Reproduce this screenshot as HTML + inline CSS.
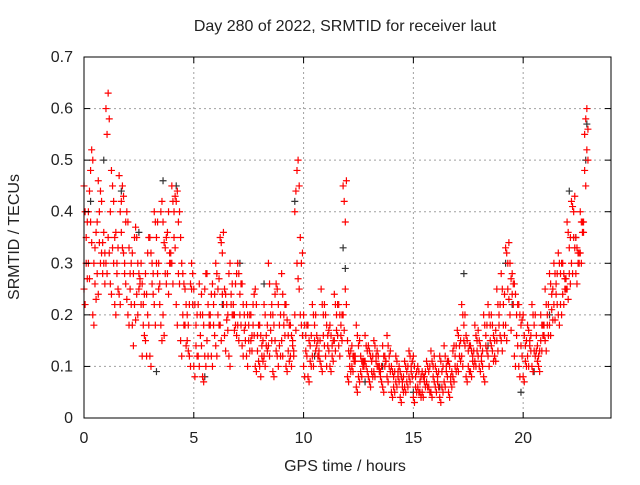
<!DOCTYPE html>
<html><head><meta charset="utf-8"><style>
html,body{margin:0;padding:0;background:#fff}
svg text{font-family:"Liberation Sans",sans-serif;font-size:16px;fill:#222}
</style></head><body>
<svg id="chart" width="640" height="480" xmlns="http://www.w3.org/2000/svg">
<rect width="640" height="480" fill="#fff"/>
<g id="grid"></g>
<g id="marks"></g>
<g id="axes"></g>
<text x="345" y="31" text-anchor="middle">Day 280 of 2022, SRMTID for receiver laut</text>
<text x="345" y="471" text-anchor="middle">GPS time / hours</text>
<text transform="translate(19,237) rotate(-90)" text-anchor="middle">SRMTID / TECUs</text>
</svg>
<script>
const xTicks=[0,5,10,15,20];
const yTicks=[0,0.1,0.2,0.3,0.4,0.5,0.6,0.7];
const yTickLabels=["0","0.1","0.2","0.3","0.4","0.5","0.6","0.7"];
const hoursA=[0.0,0.2,0.4,0.6,0.8,1.0,1.2,1.4,1.6,1.8,2.0,2.2,2.4,2.6,2.8,3.0,3.2,3.4,3.6,3.8,4.0,4.2,4.4,4.6,4.8,5.0,5.2,5.4,5.6,5.8,6.0,6.2,6.4,6.6,6.8,7.0,7.2,7.4,7.6,7.8,8.0,8.2,8.4,8.6,8.8,9.0,9.2,9.4,9.6,9.8,10.0,10.2,10.4,10.6,10.8,11.0,11.2,11.4,11.6,11.8,12.0,12.2,12.4,12.6,12.8,13.0,13.2,13.4,13.6,13.8,14.0,14.2,14.4,14.6,14.8,15.0,15.2,15.4,15.6,15.8,16.0,16.2,16.4,16.6,16.8,17.0,17.2,17.4,17.6,17.8,18.0,18.2,18.4,18.6,18.8,19.0,19.2,19.4,19.6,19.8,20.0,20.2,20.4,20.6,20.8,21.0,21.2,21.4,21.6,21.8,22.0,22.2,22.4,22.6,22.8];
const hoursB=[0.1,0.3,0.5,0.7,0.9,1.1,1.3,1.5,1.7,1.9,2.1,2.3,2.5,2.7,2.9,3.1,3.3,3.5,3.7,3.9,4.1,4.3,4.5,4.7,4.9,5.1,5.3,5.5,5.7,5.9,6.1,6.3,6.5,6.7,6.9,7.1,7.3,7.5,7.7,7.9,8.1,8.3,8.5,8.7,8.9,9.1,9.3,9.5,9.7,9.9,10.1,10.3,10.5,10.7,10.9,11.1,11.3,11.5,11.7,11.9,12.1,12.3,12.5,12.7,12.9,13.1,13.3,13.5,13.7,13.9,14.1,14.3,14.5,14.7,14.9,15.1,15.3,15.5,15.7,15.9,16.1,16.3,16.5,16.7,16.9,17.1,17.3,17.5,17.7,17.9,18.1,18.3,18.5,18.7,18.9,19.1,19.3,19.5,19.7,19.9,20.1,20.3,20.5,20.7,20.9,21.1,21.3,21.5,21.7,21.9,22.1,22.3,22.5,22.7,22.9];
const hoursC=[0.05,0.25,0.45,0.65,0.85,1.05,1.25,1.45,1.65,1.85,2.05,2.25,2.45,2.65,2.85,3.05,3.25,3.45,3.65,3.85,4.05,4.25,4.45,4.65,4.85,5.05,5.25,5.45,5.65,5.85,6.05,6.25,6.45,6.65,6.85,7.05,7.25,7.45,7.65,7.85,8.05,8.25,8.45,8.65,8.85,9.05,9.25,9.45,9.65,9.85,10.05,10.25,10.45,10.65,10.85,11.05,11.25,11.45,11.65,11.85,12.05,12.25,12.45,12.65,12.85,13.05,13.25,13.45,13.65,13.85,14.05,14.25,14.45,14.65,14.85,15.05,15.25,15.45,15.65,15.85,16.05,16.25,16.45,16.65,16.85,17.05,17.25,17.45,17.65,17.85,18.05,18.25,18.45,18.65,18.85,19.05,19.25,19.45,19.65,19.85,20.05,20.25,20.45,20.65,20.85,21.05,21.25,21.45,21.65,21.85,22.05,22.25,22.45,22.65,22.85];
const hoursD=[0.15,0.35,0.55,0.75,0.95,1.15,1.35,1.55,1.75,1.95,2.15,2.35,2.55,2.75,2.95,3.15,3.35,3.55,3.75,3.95,4.15,4.35,4.55,4.75,4.95,5.15,5.35,5.55,5.75,5.95,6.15,6.35,6.55,6.75,6.95,7.15,7.35,7.55,7.75,7.95,8.15,8.35,8.55,8.75,8.95,9.15,9.35,9.55,9.75,9.95,10.15,10.35,10.55,10.75,10.95,11.15,11.35,11.55,11.75,11.95,12.15,12.35,12.55,12.75,12.95,13.15,13.35,13.55,13.75,13.95,14.15,14.35,14.55,14.75,14.95,15.15,15.35,15.55,15.75,15.95,16.15,16.35,16.55,16.75,16.95,17.15,17.35,17.55,17.75,17.95,18.15,18.35,18.55,18.75,18.95,19.15,19.35,19.55,19.75,19.95,20.15,20.35,20.55,20.75,20.95,21.15,21.35,21.55,21.75,21.95,22.15,22.35,22.55,22.75,22.95];
const tecA1=[.45,.40,.50,.38,.42,.60,.40,.35,.47,.43,.38,.32,.35,.30,.28,.35,.40,.30,.38,.36,.45,.42,.35,.25,.22,.25,.22,.20,.28,.24,.30,.35,.25,.28,.22,.30,.26,.22,.20,.25,.18,.22,.30,.20,.25,.28,.22,.18,.40,.45,.20,.18,.22,.16,.25,.20,.18,.24,.22,.45,.15,.14,.18,.12,.16,.13,.15,.12,.14,.16,.10,.12,.09,.11,.13,.12,.10,.09,.11,.13,.10,.12,.14,.11,.13,.17,.22,.16,.14,.18,.15,.20,.22,.18,.25,.28,.33,.30,.26,.22,.20,.18,.22,.16,.20,.25,.28,.30,.32,.30,.38,.42,.35,.40,.55];
const tecA2=[.25,.30,.20,.28,.32,.30,.26,.22,.24,.32,.20,.18,.24,.22,.15,.12,.22,.25,.20,.28,.30,.22,.15,.18,.12,.10,.12,.08,.15,.12,.14,.18,.16,.12,.20,.18,.14,.12,.15,.10,.10,.12,.14,.09,.12,.15,.10,.12,.20,.25,.10,.08,.12,.14,.10,.12,.10,.15,.14,.20,.08,.10,.06,.09,.11,.07,.09,.10,.06,.08,.05,.07,.04,.06,.08,.04,.06,.05,.07,.05,.06,.04,.07,.05,.08,.10,.12,.08,.09,.11,.10,.08,.12,.13,.15,.15,.18,.20,.12,.10,.08,.12,.10,.13,.15,.15,.18,.22,.20,.24,.25,.30,.28,.32,.48];
const tecB1=[.35,.48,.33,.40,.36,.63,.45,.30,.42,.38,.28,.35,.25,.22,.32,.30,.35,.40,.33,.30,.40,.38,.28,.20,.30,.18,.20,.25,.18,.22,.25,.32,.22,.24,.26,.24,.20,.18,.22,.16,.14,.16,.20,.24,.18,.20,.16,.15,.48,.30,.16,.14,.18,.13,.20,.16,.14,.20,.18,.38,.12,.11,.14,.10,.13,.11,.12,.09,.10,.12,.08,.09,.07,.09,.10,.08,.07,.08,.09,.10,.08,.09,.10,.08,.12,.14,.18,.13,.12,.15,.12,.16,.18,.15,.20,.22,.30,.28,.20,.18,.14,.15,.18,.12,.16,.20,.24,.26,.28,.25,.33,.40,.30,.36,.60];
const tecB2=[.30,.38,.26,.34,.30,.35,.33,.28,.36,.26,.25,.22,.28,.18,.20,.26,.30,.18,.28,.32,.35,.28,.20,.15,.25,.14,.16,.12,.20,.18,.20,.24,.19,.22,.18,.20,.17,.15,.18,.13,.12,.14,.17,.15,.14,.18,.13,.14,.30,.18,.13,.11,.15,.12,.16,.14,.12,.17,.16,.25,.10,.12,.08,.11,.09,.09,.11,.08,.12,.10,.06,.08,.06,.07,.09,.06,.05,.07,.06,.08,.07,.06,.09,.07,.10,.12,.15,.10,.11,.13,.11,.14,.15,.12,.18,.18,.25,.24,.16,.14,.11,.14,.13,.10,.18,.18,.21,.24,.22,.27,.28,.35,.32,.38,.52];
const tecC1=[.40,.44,.30,.46,.34,.55,.48,.36,.40,.30,.33,.28,.30,.26,.24,.32,.38,.26,.34,.40,.42,.44,.30,.22,.26,.22,.26,.18,.22,.26,.28,.34,.24,.30,.20,.28,.22,.20,.16,.22,.16,.20,.26,.18,.22,.24,.19,.16,.44,.35,.18,.15,.20,.15,.22,.18,.16,.22,.20,.42,.13,.12,.16,.11,.14,.12,.14,.10,.12,.14,.09,.11,.08,.10,.12,.10,.09,.08,.10,.11,.09,.11,.12,.10,.14,.16,.20,.15,.13,.16,.14,.18,.20,.16,.22,.25,.32,.27,.24,.20,.16,.17,.20,.14,.18,.22,.26,.28,.30,.28,.36,.41,.33,.38,.58];
const tecC2=[.22,.27,.18,.24,.28,.28,.24,.20,.22,.28,.18,.14,.20,.12,.12,.10,.18,.22,.16,.24,.26,.18,.12,.14,.10,.08,.10,.07,.12,.10,.12,.15,.13,.10,.17,.15,.12,.10,.13,.09,.08,.10,.12,.08,.10,.12,.09,.10,.17,.20,.08,.07,.10,.12,.09,.10,.09,.13,.12,.17,.07,.09,.05,.08,.10,.06,.08,.09,.05,.07,.04,.06,.03,.05,.07,.03,.05,.04,.06,.04,.05,.03,.06,.04,.07,.09,.10,.07,.08,.10,.09,.07,.10,.11,.13,.13,.15,.17,.10,.08,.07,.10,.09,.11,.13,.13,.16,.19,.18,.22,.23,.28,.26,.30,.45];
const tecD1=[.38,.52,.36,.44,.32,.58,.42,.33,.45,.40,.30,.37,.27,.24,.35,.28,.38,.42,.35,.32,.43,.40,.26,.18,.28,.20,.24,.28,.20,.24,.27,.36,.20,.26,.28,.26,.18,.20,.24,.18,.15,.18,.22,.26,.20,.22,.18,.13,.50,.32,.18,.16,.20,.15,.22,.17,.15,.22,.20,.46,.13,.12,.15,.11,.14,.12,.13,.10,.11,.13,.09,.10,.08,.10,.11,.09,.08,.09,.10,.12,.09,.10,.11,.09,.14,.15,.20,.14,.13,.17,.13,.18,.20,.17,.22,.24,.34,.26,.22,.19,.15,.16,.20,.13,.18,.22,.25,.28,.30,.27,.35,.43,.32,.38,.56];
const tecD2=[.27,.34,.23,.30,.26,.32,.30,.25,.33,.23,.22,.19,.26,.16,.18,.24,.28,.15,.26,.30,.33,.26,.18,.13,.22,.12,.14,.10,.18,.16,.18,.22,.17,.20,.16,.18,.15,.13,.16,.11,.11,.13,.15,.13,.12,.16,.11,.12,.27,.16,.12,.10,.13,.11,.14,.13,.11,.16,.15,.22,.09,.11,.07,.10,.08,.08,.10,.07,.11,.09,.05,.07,.05,.06,.08,.05,.04,.06,.05,.07,.06,.05,.08,.06,.09,.11,.14,.09,.10,.12,.10,.13,.14,.11,.16,.16,.23,.22,.14,.12,.10,.13,.12,.09,.16,.16,.19,.22,.20,.25,.26,.33,.30,.36,.50];
const hoursK=[0.3,0.9,1.7,2.5,3.3,3.6,4.2,5.5,6.3,7.1,8.2,9.6,10.5,11.8,11.9,12.8,13.6,15.0,16.2,17.3,18.4,19.2,19.5,19.9,20.5,21.2,22.1,22.4,22.9,22.85];
const tecK=[.42,.50,.44,.36,.09,.46,.45,.08,.22,.30,.26,.42,.12,.33,.29,.07,.10,.05,.06,.28,.14,.30,.22,.05,.09,.20,.44,.35,.57,.50];

const L=84,R=611,T=57,B=418,XMAX=24,YMAX=0.7;
const xs=v=>L+(R-L)*v/XMAX;
const ys=v=>B-(B-T)*v/YMAX;
const NS="http://www.w3.org/2000/svg";
function mk(tag,attrs,parent){const e=document.createElementNS(NS,tag);for(const k in attrs)e.setAttribute(k,attrs[k]);parent.appendChild(e);return e;}
const grid=document.getElementById('grid'),axes=document.getElementById('axes'),marks=document.getElementById('marks');
yTicks.forEach((v,i)=>{
  const y=ys(v);
  if(i>0&&i<yTicks.length-1){const g=mk('line',{x1:L,x2:R,y1:y,y2:y,stroke:'#a0a0a0','stroke-dasharray':'2,3'},grid);
  
  }
  mk('line',{x1:L,x2:L+6,y1:y,y2:y,stroke:'#000'},axes);
  mk('line',{x1:R,x2:R-6,y1:y,y2:y,stroke:'#000'},axes);
  const t=mk('text',{x:L-11,y:y+5,'text-anchor':'end'},axes);t.textContent=yTickLabels[i];
  
  
});
xTicks.forEach(v=>{
  const x=xs(v);
  if(v>0){const g=mk('line',{x1:x,x2:x,y1:T,y2:B,stroke:'#a0a0a0','stroke-dasharray':'2,3'},grid);
  
  }
  mk('line',{x1:x,x2:x,y1:B,y2:B-6,stroke:'#000'},axes);
  mk('line',{x1:x,x2:x,y1:T,y2:T+6,stroke:'#000'},axes);
  const t=mk('text',{x:x,y:B+25,'text-anchor':'middle'},axes);t.textContent=String(v);
  
  
});
const fr=mk('rect',{x:L,y:T,width:R-L,height:B-T,fill:'none',stroke:'#000'},axes);


function plus(h,v,color,name){
  const x=xs(h),y=ys(v);
  const p=mk('path',{d:`M${x-3.5},${y}H${x+3.5}M${x},${y-3.5}V${y+3.5}`,stroke:color,'stroke-width':1.2,fill:'none'},marks);
  
  
}
hoursK.forEach((h,i)=>plus(h,tecK[i],'#333','black-point'));
hoursA.forEach((h,i)=>{plus(h,tecA1[i],'#f00','red-point');plus(h,tecA2[i],'#f00','red-point');});
hoursB.forEach((h,i)=>{plus(h,tecB1[i],'#f00','red-point');plus(h,tecB2[i],'#f00','red-point');});
hoursC.forEach((h,i)=>{plus(h,tecC1[i],'#f00','red-point');plus(h,tecC2[i],'#f00','red-point');});
hoursD.forEach((h,i)=>{plus(h,tecD1[i],'#f00','red-point');plus(h,tecD2[i],'#f00','red-point');});
</script>
</body></html>
